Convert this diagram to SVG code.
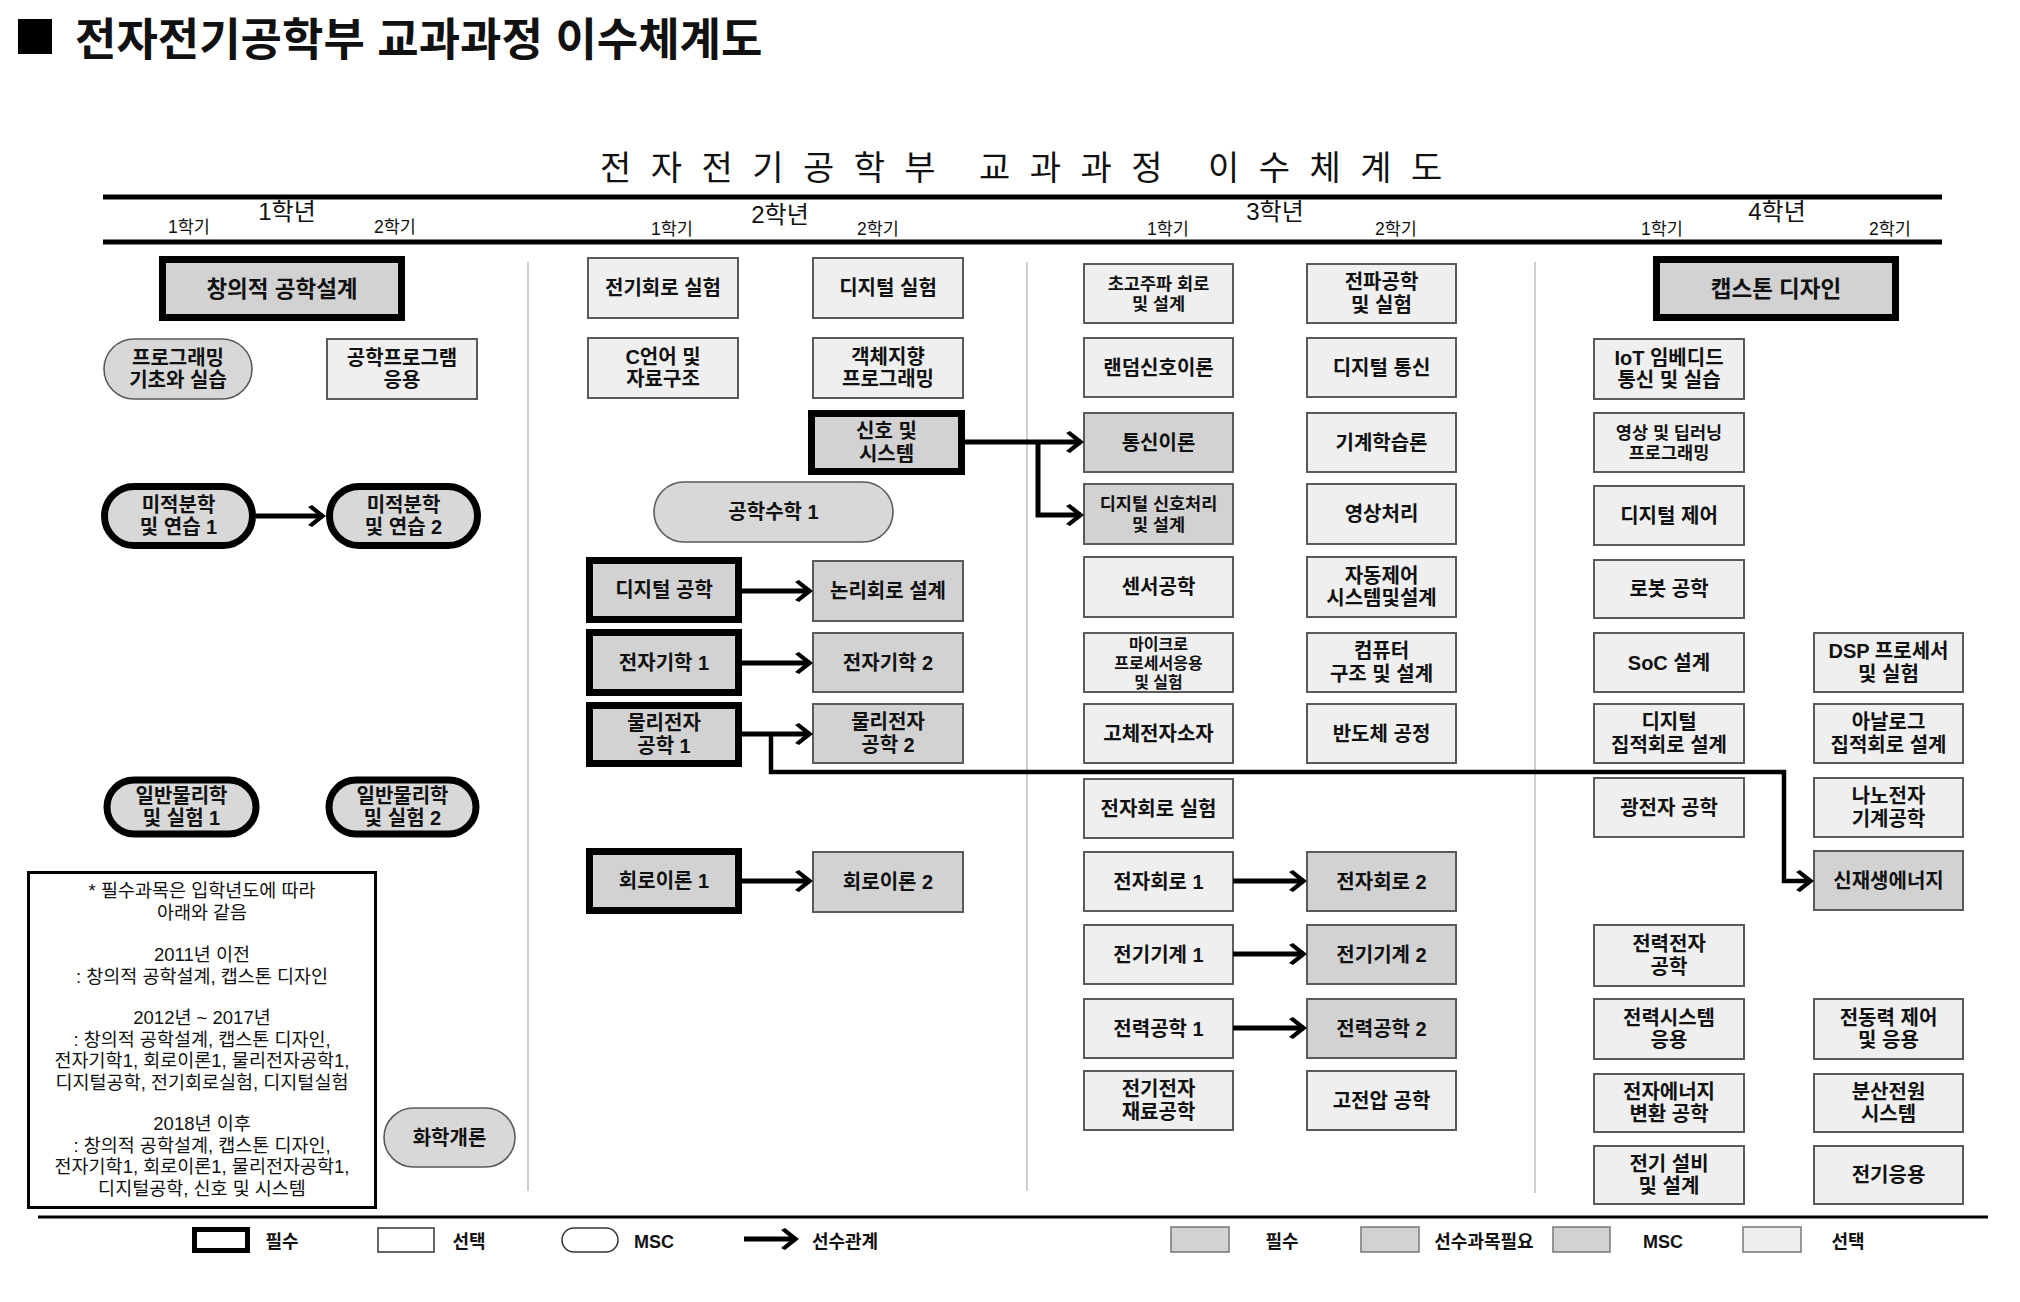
<svg xmlns="http://www.w3.org/2000/svg" width="2020" height="1302" viewBox="0 0 2020 1302">
<style>
text{font-family:"Liberation Sans","Noto Sans CJK KR",sans-serif;fill:#111}
.t{font-weight:700;font-size:20px;text-anchor:middle}
.s{font-size:17.5px}
.big{font-weight:700;font-size:22.5px;text-anchor:middle}
.opt{fill:#efefef;stroke:#5a5a5a;stroke-width:2}
.pre{fill:#d2d2d2;stroke:#5a5a5a;stroke-width:2}
.req{fill:#d2d2d2;stroke:#000;stroke-width:7}
.msc{fill:#d8d8d8;stroke:#5a5a5a;stroke-width:1.6}
.mreq{fill:#d8d8d8;stroke:#000;stroke-width:7}
.div{stroke:#cfcfcf;stroke-width:2}
.hdr{stroke:#000;stroke-width:5}
.yr{font-size:24px;text-anchor:middle}
.sem{font-size:17.5px;text-anchor:middle}
.note{font-size:18.5px;text-anchor:middle}
.lg{font-weight:700;font-size:18px;text-anchor:middle}
.con{fill:none;stroke:#000;stroke-width:5}
</style>
<defs>
<marker id="ah" markerUnits="userSpaceOnUse" markerWidth="20" markerHeight="24" refX="15" refY="11" orient="auto">
<path d="M0,2 L4,0 L18,11 L4,22 L0,20 L11,11 z" fill="#000"/>
</marker>
</defs>
<rect width="2020" height="1302" fill="#fff"/>

<g id="title">
<rect x="18" y="19" width="34" height="35" fill="#000"/>
<text x="75" y="56" style="font-weight:700;font-size:45px">전자전기공학부 교과과정 이수체계도</text>
</g>

<g id="subtitle">
<text y="180" style="font-size:34px;letter-spacing:5px"><tspan x="600">전 자 전 기 공 학 부</tspan><tspan x="979">교 과 과 정</tspan><tspan x="1208">이 수 체 계 도</tspan></text>
</g>

<g id="header">
<line class="hdr" x1="103" y1="197" x2="1942" y2="197"/>
<line class="hdr" x1="103" y1="242" x2="1942" y2="242"/>
<text class="yr" x="287" y="220">1학년</text>
<text class="sem" x="189" y="233">1학기</text>
<text class="sem" x="395" y="233">2학기</text>
<text class="yr" x="780" y="223">2학년</text>
<text class="sem" x="672" y="235">1학기</text>
<text class="sem" x="878" y="235">2학기</text>
<text class="yr" x="1275" y="220">3학년</text>
<text class="sem" x="1168" y="235">1학기</text>
<text class="sem" x="1396" y="235">2학기</text>
<text class="yr" x="1777" y="220">4학년</text>
<text class="sem" x="1662" y="235">1학기</text>
<text class="sem" x="1890" y="235">2학기</text>
<line class="div" x1="528" y1="262" x2="528" y2="1191"/>
<line class="div" x1="1027" y1="262" x2="1027" y2="1191"/>
<line class="div" x1="1535" y1="262" x2="1535" y2="1193"/>
</g>

<!-- Year 1 -->
<g id="n-creative"><rect class="req" x="162.5" y="259.5" width="239" height="58"/><text class="big" x="282" y="296.5">창의적 공학설계</text></g>
<g id="n-prog"><rect class="msc" x="104" y="339" width="148" height="60" rx="30"/><text class="t" x="178" y="364.5">프로그래밍<tspan x="178" dy="22.5">기초와 실습</tspan></text></g>
<g id="n-engprog"><rect class="opt" x="327" y="339" width="150" height="60"/><text class="t" x="402" y="364.5">공학프로그램<tspan x="402" dy="22.5">응용</tspan></text></g>
<g id="n-calc1"><rect class="mreq" x="104.5" y="486.5" width="148" height="59" rx="29.5"/><text class="t" x="178.5" y="511.5">미적분학<tspan x="178.5" dy="22.5">및 연습 1</tspan></text></g>
<g id="n-calc2"><rect class="mreq" x="329.5" y="486.5" width="148" height="59" rx="29.5"/><text class="t" x="403.5" y="511.5">미적분학<tspan x="403.5" dy="22.5">및 연습 2</tspan></text></g>
<g id="n-phys1"><rect class="mreq" x="107" y="780" width="149" height="54" rx="27"/><text class="t" x="181.5" y="802.5">일반물리학<tspan x="181.5" dy="22.5">및 실험 1</tspan></text></g>
<g id="n-phys2"><rect class="mreq" x="329" y="780" width="147" height="54" rx="27"/><text class="t" x="402.5" y="802.5">일반물리학<tspan x="402.5" dy="22.5">및 실험 2</tspan></text></g>
<g id="n-chem"><rect class="msc" x="384" y="1108" width="131" height="59" rx="29.5"/><text class="t" x="449.5" y="1144.5">화학개론</text></g>
<g id="n-note">
<rect x="28.5" y="872.5" width="347" height="335" fill="#fff" stroke="#000" stroke-width="3"/>
<text class="note"><tspan x="202" y="897">* 필수과목은 입학년도에 따라</tspan><tspan x="202" y="918.5">아래와 같음</tspan><tspan x="202" y="961">2011년 이전</tspan><tspan x="202" y="982.5">: 창의적 공학설계, 캡스톤 디자인</tspan><tspan x="202" y="1024">2012년 ~ 2017년</tspan><tspan x="202" y="1045.5">: 창의적 공학설계, 캡스톤 디자인,</tspan><tspan x="202" y="1067">전자기학1, 회로이론1, 물리전자공학1,</tspan><tspan x="202" y="1088.5">디지털공학, 전기회로실험, 디지털실험</tspan><tspan x="202" y="1130">2018년 이후</tspan><tspan x="202" y="1151.5">: 창의적 공학설계, 캡스톤 디자인,</tspan><tspan x="202" y="1173">전자기학1, 회로이론1, 물리전자공학1,</tspan><tspan x="202" y="1194.5">디지털공학, 신호 및 시스템</tspan></text>
</g>

<!-- Year 2 -->
<g id="n-eclab"><rect class="opt" x="588" y="258" width="150" height="60"/><text class="t" x="663" y="295">전기회로 실험</text></g>
<g id="n-diglab"><rect class="opt" x="813" y="258" width="150" height="60"/><text class="t" x="888" y="295">디지털 실험</text></g>
<g id="n-clang"><rect class="opt" x="588" y="338" width="150" height="60"/><text class="t" x="663" y="363.5">C언어 및<tspan x="663" dy="22.5">자료구조</tspan></text></g>
<g id="n-oop"><rect class="opt" x="813" y="338" width="150" height="60"/><text class="t" x="888" y="363.5">객체지향<tspan x="888" dy="22.5">프로그래밍</tspan></text></g>
<g id="n-sigsys"><rect class="req" x="811.5" y="413.5" width="150" height="58"/><text class="t" x="886.5" y="438">신호 및<tspan x="886.5" dy="22.5">시스템</tspan></text></g>
<g id="n-engmath"><rect class="msc" x="654" y="482" width="239" height="60" rx="30"/><text class="t" x="773.5" y="519">공학수학 1</text></g>
<g id="n-digeng"><rect class="req" x="589.5" y="560.5" width="149" height="59"/><text class="t" x="664" y="597">디지털 공학</text></g>
<g id="n-logic"><rect class="pre" x="813" y="561" width="150" height="60"/><text class="t" x="888" y="598">논리회로 설계</text></g>
<g id="n-em1"><rect class="req" x="589.5" y="632.5" width="149" height="60"/><text class="t" x="664" y="669.5">전자기학 1</text></g>
<g id="n-em2"><rect class="pre" x="813" y="633" width="150" height="59"/><text class="t" x="888" y="669.5">전자기학 2</text></g>
<g id="n-pe1"><rect class="req" x="589.5" y="705.5" width="149" height="58"/><text class="t" x="664" y="730">물리전자<tspan x="664" dy="22.5">공학 1</tspan></text></g>
<g id="n-pe2"><rect class="pre" x="813" y="704" width="150" height="59"/><text class="t" x="888" y="729">물리전자<tspan x="888" dy="22.5">공학 2</tspan></text></g>
<g id="n-ct1"><rect class="req" x="589.5" y="851.5" width="149" height="59"/><text class="t" x="664" y="888">회로이론 1</text></g>
<g id="n-ct2"><rect class="pre" x="813" y="852" width="150" height="60"/><text class="t" x="888" y="889">회로이론 2</text></g>

<!-- Year 3 semester 1 -->
<g id="n-rf"><rect class="opt" x="1084" y="264" width="149" height="59"/><text class="t s" x="1158.5" y="289.5">초고주파 회로<tspan x="1158.5" dy="20.5">및 설계</tspan></text></g>
<g id="n-random"><rect class="opt" x="1084" y="338" width="149" height="59"/><text class="t" x="1158.5" y="374.5">랜덤신호이론</text></g>
<g id="n-comm"><rect class="pre" x="1084" y="413" width="149" height="59"/><text class="t" x="1158.5" y="449.5">통신이론</text></g>
<g id="n-dsp"><rect class="pre" x="1084" y="484" width="149" height="60"/><text class="t s" x="1158.5" y="510">디지털 신호처리<tspan x="1158.5" dy="20.5">및 설계</tspan></text></g>
<g id="n-sensor"><rect class="opt" x="1084" y="557" width="149" height="60"/><text class="t" x="1158.5" y="594">센서공학</text></g>
<g id="n-micro"><rect class="opt" x="1084" y="633" width="149" height="59"/><text class="t" x="1158.5" y="649.5" style="font-size:16px">마이크로<tspan x="1158.5" dy="19">프로세서응용</tspan><tspan x="1158.5" dy="19">및 실험</tspan></text></g>
<g id="n-solid"><rect class="opt" x="1084" y="704" width="149" height="59"/><text class="t" x="1158.5" y="740.5">고체전자소자</text></g>
<g id="n-eclab2"><rect class="opt" x="1084" y="779" width="149" height="59"/><text class="t" x="1158.5" y="815.5">전자회로 실험</text></g>
<g id="n-ec1"><rect class="opt" x="1084" y="852" width="149" height="59"/><text class="t" x="1158.5" y="888.5">전자회로 1</text></g>
<g id="n-em1b"><rect class="opt" x="1084" y="925" width="149" height="59"/><text class="t" x="1158.5" y="961.5">전기기계 1</text></g>
<g id="n-pw1"><rect class="opt" x="1084" y="999" width="149" height="59"/><text class="t" x="1158.5" y="1035.5">전력공학 1</text></g>
<g id="n-mat"><rect class="opt" x="1084" y="1071" width="149" height="59"/><text class="t" x="1158.5" y="1096">전기전자<tspan x="1158.5" dy="22.5">재료공학</tspan></text></g>

<!-- Year 3 semester 2 -->
<g id="n-wave"><rect class="opt" x="1307" y="264" width="149" height="59"/><text class="t" x="1381.5" y="289">전파공학<tspan x="1381.5" dy="22.5">및 실험</tspan></text></g>
<g id="n-digcomm"><rect class="opt" x="1307" y="338" width="149" height="59"/><text class="t" x="1381.5" y="374.5">디지털 통신</text></g>
<g id="n-ml"><rect class="opt" x="1307" y="413" width="149" height="59"/><text class="t" x="1381.5" y="449.5">기계학습론</text></g>
<g id="n-img"><rect class="opt" x="1307" y="484" width="149" height="60"/><text class="t" x="1381.5" y="521">영상처리</text></g>
<g id="n-ctrl"><rect class="opt" x="1307" y="557" width="149" height="60"/><text class="t" x="1381.5" y="582.5">자동제어<tspan x="1381.5" dy="22.5">시스템및설계</tspan></text></g>
<g id="n-arch"><rect class="opt" x="1307" y="633" width="149" height="59"/><text class="t" x="1381.5" y="658">컴퓨터<tspan x="1381.5" dy="22.5">구조 및 설계</tspan></text></g>
<g id="n-semi"><rect class="opt" x="1307" y="704" width="149" height="59"/><text class="t" x="1381.5" y="740.5">반도체 공정</text></g>
<g id="n-ec2"><rect class="pre" x="1307" y="852" width="149" height="59"/><text class="t" x="1381.5" y="888.5">전자회로 2</text></g>
<g id="n-em2b"><rect class="pre" x="1307" y="925" width="149" height="59"/><text class="t" x="1381.5" y="961.5">전기기계 2</text></g>
<g id="n-pw2"><rect class="pre" x="1307" y="999" width="149" height="59"/><text class="t" x="1381.5" y="1035.5">전력공학 2</text></g>
<g id="n-hv"><rect class="opt" x="1307" y="1071" width="149" height="59"/><text class="t" x="1381.5" y="1107.5">고전압 공학</text></g>

<!-- Year 4 semester 1 -->
<g id="n-capstone"><rect class="req" x="1656.5" y="259.5" width="239" height="58"/><text class="big" x="1776" y="296.5">캡스톤 디자인</text></g>
<g id="n-iot"><rect class="opt" x="1594" y="339" width="150" height="60"/><text class="t" x="1669" y="364.5">IoT 임베디드<tspan x="1669" dy="22.5">통신 및 실습</tspan></text></g>
<g id="n-dl"><rect class="opt" x="1594" y="413" width="150" height="59"/><text class="t s" x="1669" y="438.5">영상 및 딥러닝<tspan x="1669" dy="20.5">프로그래밍</tspan></text></g>
<g id="n-digctrl"><rect class="opt" x="1594" y="486" width="150" height="59"/><text class="t" x="1669" y="522.5">디지털 제어</text></g>
<g id="n-robot"><rect class="opt" x="1594" y="560" width="150" height="58"/><text class="t" x="1669" y="596">로봇 공학</text></g>
<g id="n-soc"><rect class="opt" x="1594" y="633" width="150" height="59"/><text class="t" x="1669" y="669.5">SoC 설계</text></g>
<g id="n-dic"><rect class="opt" x="1594" y="704" width="150" height="59"/><text class="t" x="1669" y="729">디지털<tspan x="1669" dy="22.5">집적회로 설계</tspan></text></g>
<g id="n-opto"><rect class="opt" x="1594" y="778" width="150" height="59"/><text class="t" x="1669" y="814.5">광전자 공학</text></g>
<g id="n-pe"><rect class="opt" x="1594" y="925" width="150" height="61"/><text class="t" x="1669" y="951">전력전자<tspan x="1669" dy="22.5">공학</tspan></text></g>
<g id="n-pwsys"><rect class="opt" x="1594" y="999" width="150" height="60"/><text class="t" x="1669" y="1024.5">전력시스템<tspan x="1669" dy="22.5">응용</tspan></text></g>
<g id="n-econv"><rect class="opt" x="1594" y="1074" width="150" height="58"/><text class="t" x="1669" y="1098.5">전자에너지<tspan x="1669" dy="22.5">변환 공학</tspan></text></g>
<g id="n-facility"><rect class="opt" x="1594" y="1146" width="150" height="58"/><text class="t" x="1669" y="1170.5">전기 설비<tspan x="1669" dy="22.5">및 설계</tspan></text></g>

<!-- Year 4 semester 2 -->
<g id="n-dspproc"><rect class="opt" x="1814" y="633" width="149" height="59"/><text class="t" x="1888.5" y="658">DSP 프로세서<tspan x="1888.5" dy="22.5">및 실험</tspan></text></g>
<g id="n-aic"><rect class="opt" x="1814" y="704" width="149" height="59"/><text class="t" x="1888.5" y="729">아날로그<tspan x="1888.5" dy="22.5">집적회로 설계</tspan></text></g>
<g id="n-nems"><rect class="opt" x="1814" y="778" width="149" height="59"/><text class="t" x="1888.5" y="803">나노전자<tspan x="1888.5" dy="22.5">기계공학</tspan></text></g>
<g id="n-renew"><rect class="pre" x="1814" y="851" width="149" height="59"/><text class="t" x="1888.5" y="887.5">신재생에너지</text></g>
<g id="n-motor"><rect class="opt" x="1814" y="999" width="149" height="60"/><text class="t" x="1888.5" y="1024.5">전동력 제어<tspan x="1888.5" dy="22.5">및 응용</tspan></text></g>
<g id="n-dist"><rect class="opt" x="1814" y="1074" width="149" height="58"/><text class="t" x="1888.5" y="1098.5">분산전원<tspan x="1888.5" dy="22.5">시스템</tspan></text></g>
<g id="n-app"><rect class="opt" x="1814" y="1146" width="149" height="58"/><text class="t" x="1888.5" y="1182">전기응용</text></g>

<!-- Connectors -->
<g id="connectors">
<path class="con" d="M256,516 H323" marker-end="url(#ah)"/>
<path class="con" d="M965,442 H1081" marker-end="url(#ah)"/>
<path class="con" d="M1038,442 V515 H1081" marker-end="url(#ah)"/>
<path class="con" d="M742,591 H810" marker-end="url(#ah)"/>
<path class="con" d="M742,663 H810" marker-end="url(#ah)"/>
<path class="con" d="M742,734 H810" marker-end="url(#ah)"/>
<path class="con" d="M771,734 V772 H1784 V881 H1811" marker-end="url(#ah)" style="stroke-width:4.5"/>
<path class="con" d="M742,881 H810" marker-end="url(#ah)"/>
<path class="con" d="M1233,881 H1304" marker-end="url(#ah)"/>
<path class="con" d="M1233,954 H1304" marker-end="url(#ah)"/>
<path class="con" d="M1233,1028 H1304" marker-end="url(#ah)"/>
</g>

<!-- Legend -->
<g id="legend">
<line x1="38" y1="1217" x2="1988" y2="1217" stroke="#000" stroke-width="3"/>
<rect x="194.5" y="1229.5" width="53" height="21" fill="#fff" stroke="#000" stroke-width="5"/>
<text class="lg" x="282" y="1248">필수</text>
<rect x="378" y="1228" width="56" height="24" fill="#fff" stroke="#333" stroke-width="1.5"/>
<text class="lg" x="469" y="1248">선택</text>
<rect x="562" y="1228" width="56" height="24" rx="12" fill="#fff" stroke="#333" stroke-width="1.5"/>
<text class="lg" x="654" y="1248">MSC</text>
<path class="con" d="M744,1239 H796" marker-end="url(#ah)"/>
<text class="lg" x="845" y="1248">선수관계</text>
<rect x="1171" y="1227" width="58" height="25" fill="#d2d2d2" stroke="#777" stroke-width="1.5"/>
<text class="lg" x="1282" y="1248">필수</text>
<rect x="1361" y="1227" width="58" height="25" fill="#d2d2d2" stroke="#777" stroke-width="1.5"/>
<text class="lg" x="1484" y="1248">선수과목필요</text>
<rect x="1553" y="1227" width="57" height="25" fill="#d2d2d2" stroke="#777" stroke-width="1.5"/>
<text class="lg" x="1663" y="1248">MSC</text>
<rect x="1743" y="1227" width="58" height="25" fill="#efefef" stroke="#777" stroke-width="1.5"/>
<text class="lg" x="1848" y="1248">선택</text>
</g>
</svg>
